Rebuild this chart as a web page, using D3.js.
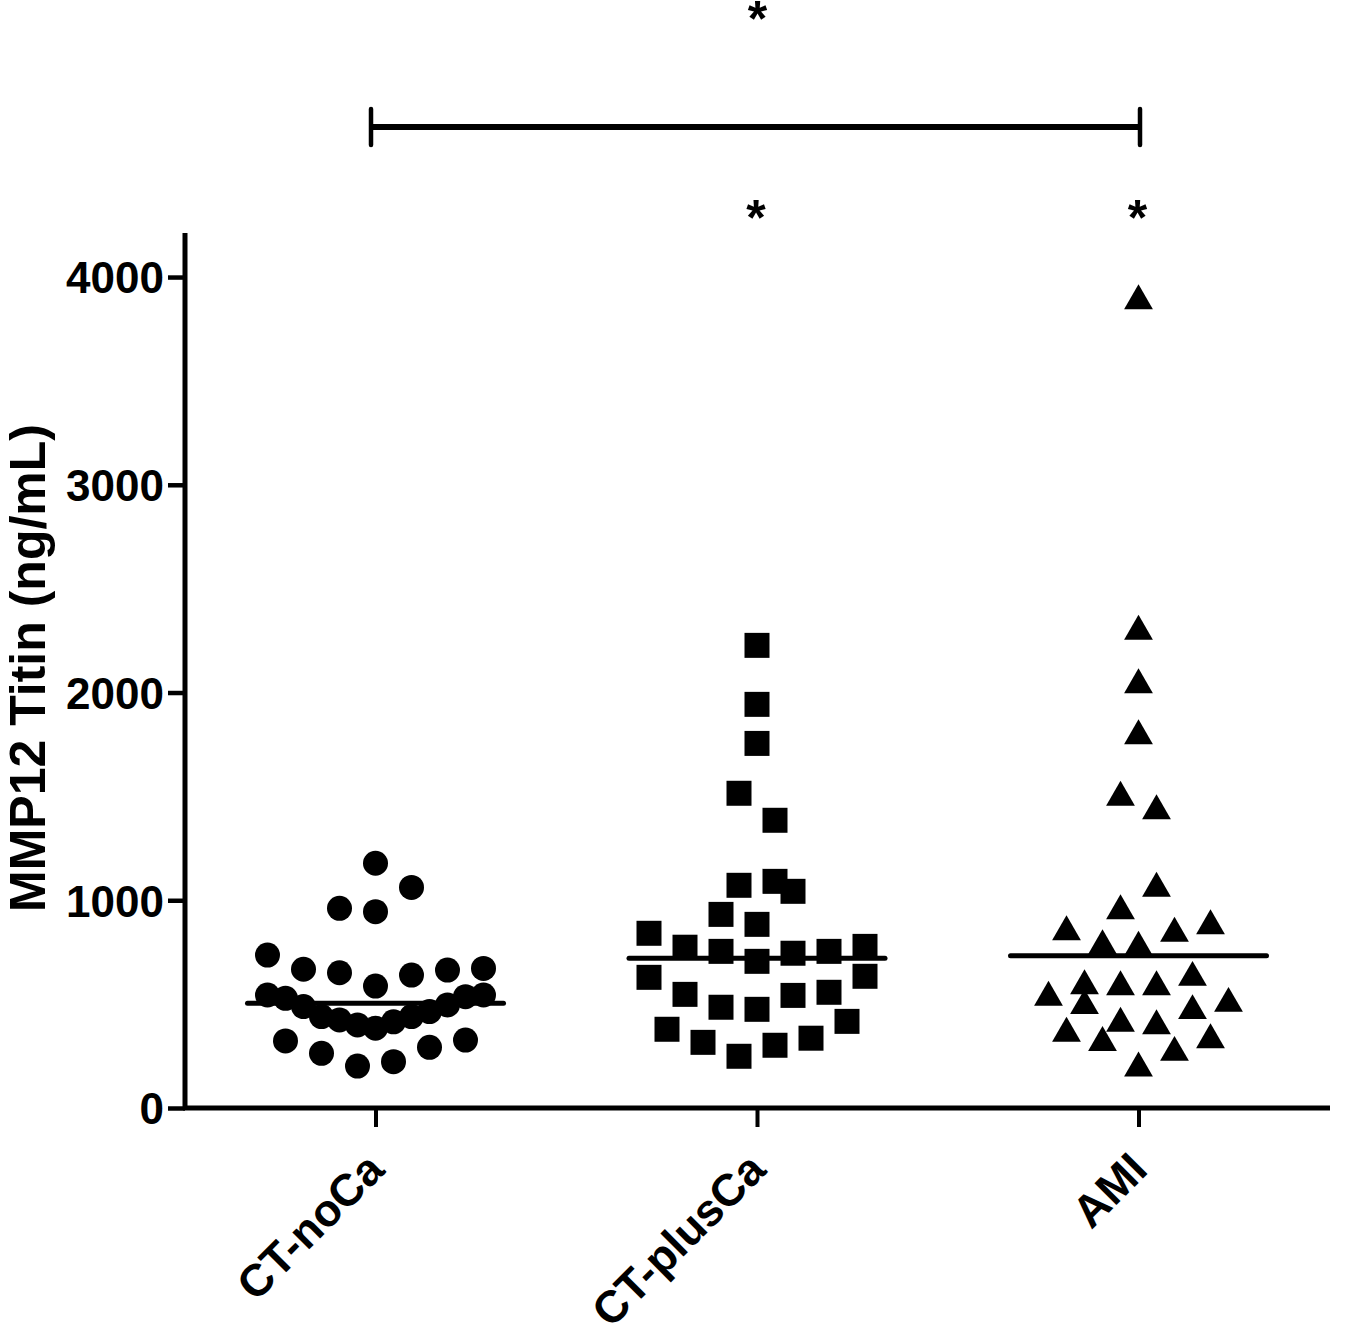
<!DOCTYPE html>
<html>
<head>
<meta charset="utf-8">
<script src="https://cdn.jsdelivr.net/npm/d3@7"></script>
<style>
  html, body { margin: 0; padding: 0; background: #fff; }
  svg { display: block; }
  text { font-family: Arial, "Liberation Sans", sans-serif; font-weight: bold; fill: #000; }
</style>
</head>
<body>
<svg id="chart" width="1360" height="1327"></svg>
<script>
// ---------------- data ----------------
const categories = ["CT-noCa", "CT-plusCa", "AMI"];
const symbols = ["circle", "square", "triangle"];

const ctNoCaValues = [1178, 1062, 961, 945, 736, 668, 651, 587, 640, 664, 672,
  544, 528, 488, 440, 424, 400, 384, 415, 440, 464, 496, 536, 544,
  323, 263, 202, 223, 292, 327];
const ctNoCaLanes = [0, 2, -2, 0, -6, -4, -2, 0, 2, 4, 6,
  -6, -5, -4, -3, -2, -1, 0, 1, 2, 3, 4, 5, 6,
  -5, -3, -1, 1, 3, 5];

const ctPlusCaValues = [2227, 1943, 1755, 1515, 1385, 1072, 1091, 1043, 932, 884,
  841, 774, 754, 706, 745, 754, 778, 629, 634, 547, 485, 475, 542, 557,
  417, 379, 316, 249, 302, 336];
const ctPlusCaLanes = [0, 0, 0, -1, 1, -1, 1, 2, -2, 0,
  -6, -4, -2, 0, 2, 4, 6, -6, 6, -4, -2, 0, 2, 4,
  5, -5, -3, -1, 1, 3];

const amiValues = [3905, 2314, 2057, 1811, 1515, 1450, 1077, 969, 868, 897, 860,
  800, 793, 648, 608, 603, 603, 552, 512, 523, 488, 427, 415, 379, 348, 335, 287, 212];
const amiLanes = [0, 0, 0, 0, -1, 1, 1, -1, -4, 4, 2,
  -2, 0, 3, -3, -1, 1, -5, -3, 5, 3, -1, 1, -4, 4, -2, 2, 0];

const medianValues = [504, 721, 733];

const yTicks = [0, 1000, 2000, 3000, 4000];
const yMax = 4212;
const yTitle = "MMP12 Titin (ng/mL)";

// significance annotations
const bracketGroups = ["CT-noCa", "AMI"];
const bracketLabel = "*";
const starGroups = ["CT-plusCa", "AMI"];

// ---------------- layout ----------------
const svg = d3.select("#chart");
const x0 = 185, xEnd = 1330, yBottom = 1108, yTop = 233;

const x = d3.scalePoint().domain(categories).range([375.5, 1138.5]);
const y = d3.scaleLinear().domain([0, yMax]).range([yBottom, yTop]);
const lane = d3.scaleLinear().domain([0, 1]).range([0, 18]);

const groups = [
  { cat: categories[0], sym: symbols[0], values: ctNoCaValues, lanes: ctNoCaLanes },
  { cat: categories[1], sym: symbols[1], values: ctPlusCaValues, lanes: ctPlusCaLanes },
  { cat: categories[2], sym: symbols[2], values: amiValues, lanes: amiLanes }
];

// ---- y axis ----
const yAxis = d3.axisLeft(y).tickValues(yTicks).tickSize(17).tickPadding(4).tickFormat(d3.format("d"));
const gy = svg.append("g").attr("transform", `translate(${x0},0)`).call(yAxis);
gy.select(".domain").remove();
gy.selectAll(".tick line").attr("stroke", "#000").attr("stroke-width", 4.5);
gy.selectAll(".tick text").style("font-size", "44px").attr("dy", "0.36em");
svg.append("line").attr("x1", x0).attr("x2", x0).attr("y1", yTop).attr("y2", yBottom + 2)
  .attr("stroke", "#000").attr("stroke-width", 5);

// ---- x axis ----
const xAxis = d3.axisBottom(x).tickSize(19).tickFormat("");
const gx = svg.append("g").attr("transform", `translate(0,${yBottom})`).call(xAxis);
gx.select(".domain").remove();
gx.selectAll(".tick line").attr("stroke", "#000").attr("stroke-width", 4);
svg.append("line").attr("x1", x0 - 2).attr("x2", xEnd).attr("y1", yBottom).attr("y2", yBottom)
  .attr("stroke", "#000").attr("stroke-width", 5);

svg.append("g").selectAll("text").data(categories).join("text")
  .attr("transform", d => `translate(${x(d) + 11},1172) rotate(-45)`)
  .attr("text-anchor", "end")
  .style("font-size", "45px")
  .text(d => d);

// ---- y title ----
svg.append("text")
  .attr("transform", `translate(45,${668}) rotate(-90)`)
  .attr("text-anchor", "middle")
  .style("font-size", "50px")
  .text(yTitle);

// ---- points ----
const size = 25;
const symbolType = { circle: d3.symbolCircle, square: d3.symbolSquare, triangle: d3.symbolTriangle };
const triArea = size * size * 0.5 * 1.15;
const triSide = Math.sqrt(triArea / (Math.sqrt(3) / 4));
const triH = triSide * Math.sqrt(3) / 2;
groups.forEach(g => {
  const pts = g.values.map((v, i) => ({ v, l: g.lanes[i] }));
  let area;
  if (g.sym === "circle") area = Math.PI * (size / 2) * (size / 2);
  else if (g.sym === "square") area = size * size;
  else area = triArea;
  const gen = d3.symbol().type(symbolType[g.sym]).size(area);
  svg.append("g").selectAll("path").data(pts).join("path")
    .attr("d", gen)
    .attr("transform", d => {
      const px = x(g.cat) + lane(d.l);
      let py = y(d.v);
      if (g.sym === "triangle") py += triH / 6; // centre the triangle's box on the value
      return `translate(${px},${py})`;
    })
    .attr("fill", "#000");
});

// ---- medians ----
svg.append("g").selectAll("line").data(categories).join("line")
  .attr("x1", d => x(d) - 128).attr("x2", d => x(d) + 128)
  .attr("y1", (d, i) => y(medianValues[i])).attr("y2", (d, i) => y(medianValues[i]))
  .attr("stroke", "#000").attr("stroke-width", 5).attr("stroke-linecap", "round");

// ---- significance bracket ----
const bx1 = x(bracketGroups[0]) - 4.5, bx2 = x(bracketGroups[1]) + 1.5, by = 127;
svg.append("line").attr("x1", bx1).attr("x2", bx2).attr("y1", by).attr("y2", by)
  .attr("stroke", "#000").attr("stroke-width", 6);
[bx1, bx2].forEach(bx => {
  svg.append("line").attr("x1", bx).attr("x2", bx).attr("y1", by - 18).attr("y2", by + 18)
    .attr("stroke", "#000").attr("stroke-width", 4.5).attr("stroke-linecap", "round");
});
svg.append("text").attr("x", (bx1 + bx2) / 2 + 2).attr("y", 36)
  .attr("text-anchor", "middle").style("font-size", "50px").text(bracketLabel);
svg.append("g").selectAll("text").data(starGroups).join("text")
  .attr("x", d => x(d) - 1).attr("y", 235)
  .attr("text-anchor", "middle").style("font-size", "50px").text("*");
</script>
</body>
</html>
